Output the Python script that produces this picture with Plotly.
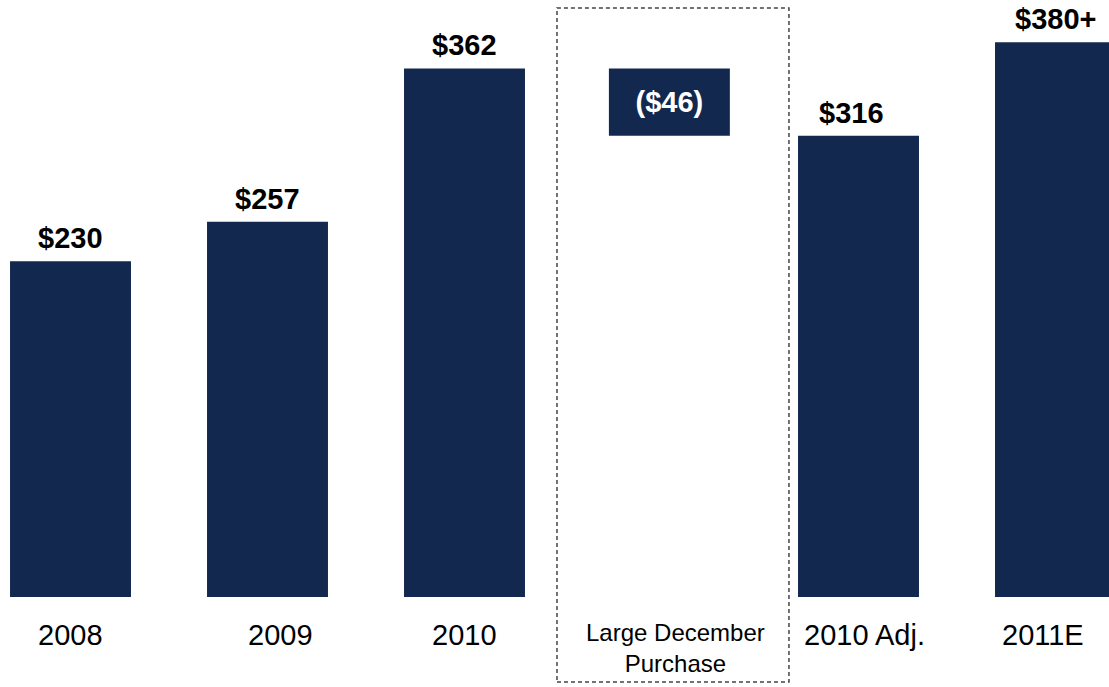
import plotly.graph_objects as go

# Annual figures ($ millions)
categories = ["2008", "2009", "2010", "Large December Purchase", "2010 Adj.", "2011E"]
bar_categories = ["2008", "2009", "2010", "2010 Adj.", "2011E"]
bar_values = [230, 257, 362, 316, 380]
bar_labels = ["$230", "$257", "$362", "$316", "$380+"]

adjustment_category = "Large December Purchase"
adjustment_base = 316
adjustment_value = 46
adjustment_label = "($46)"

axis_labels = ["2008", "2009", "2010", "Large December<br>Purchase", "2010 Adj.", "2011E"]

NAVY = "#12284f"
BAR_W = 0.614
FONT = "Liberation Sans, Arial, sans-serif"

fig = go.Figure()

fig.add_trace(go.Bar(
    x=bar_categories, y=bar_values, width=BAR_W,
    marker=dict(color=NAVY, line=dict(width=0)),
    hoverinfo="skip",
))

# Floating bridge bar for the one-off purchase
fig.add_trace(go.Bar(
    x=[adjustment_category], y=[adjustment_value], base=[adjustment_base],
    width=BAR_W, offset=-BAR_W / 2 + 0.04,
    marker=dict(color=NAVY, line=dict(width=0)),
    text=[adjustment_label], textposition="inside", insidetextanchor="middle",
    textfont=dict(family=FONT, size=29, color="white", weight="bold"),
    hoverinfo="skip",
))

# Value labels above bars (category axis positions are referenced by index)
label_shift = {"$316": -7}
for cat, val, lab in zip(bar_categories, bar_values, bar_labels):
    fig.add_annotation(
        x=categories.index(cat), y=val, xref="x", yref="y", text=f"<b>{lab}</b>",
        showarrow=False, yanchor="bottom", yshift=5, xshift=label_shift.get(lab, 0),
        font=dict(family=FONT, size=29, color="black"),
    )

# Category labels under the bars
cat_shift = [0, 13, 0, 14, 6, -13]
for i, (cat, lab, dx) in enumerate(zip(categories, axis_labels, cat_shift)):
    small = cat == adjustment_category
    fig.add_annotation(
        x=i, y=1 - 635 / 597 if not small else 1 - 648 / 597,
        xref="x", yref="paper", text=lab, showarrow=False,
        yanchor="middle", xshift=dx,
        font=dict(family=FONT, size=24 if small else 29, color="black"),
    )

# Dashed frame around the adjustment column
fig.add_shape(
    type="rect", xref="x", yref="paper",
    x0=2.4695, x1=3.647, y0=1 - 682 / 597, y1=1 - 8 / 597,
    line=dict(color="#444444", width=1.5, dash="4px,3px"),
    fillcolor="rgba(0,0,0,0)", layer="below",
)

fig.update_layout(
    width=1109, height=687,
    margin=dict(l=0, r=0, t=0, b=90),
    paper_bgcolor="white", plot_bgcolor="white",
    showlegend=False, barmode="overlay",
    xaxis=dict(type="category", categoryorder="array", categoryarray=categories,
               range=[-0.3579, 5.2716], showticklabels=False, showgrid=False,
               zeroline=False, showline=False, ticks=""),
    yaxis=dict(range=[0, 408.9], visible=False, showgrid=False, zeroline=False),
)

fig.write_html("out.html")
